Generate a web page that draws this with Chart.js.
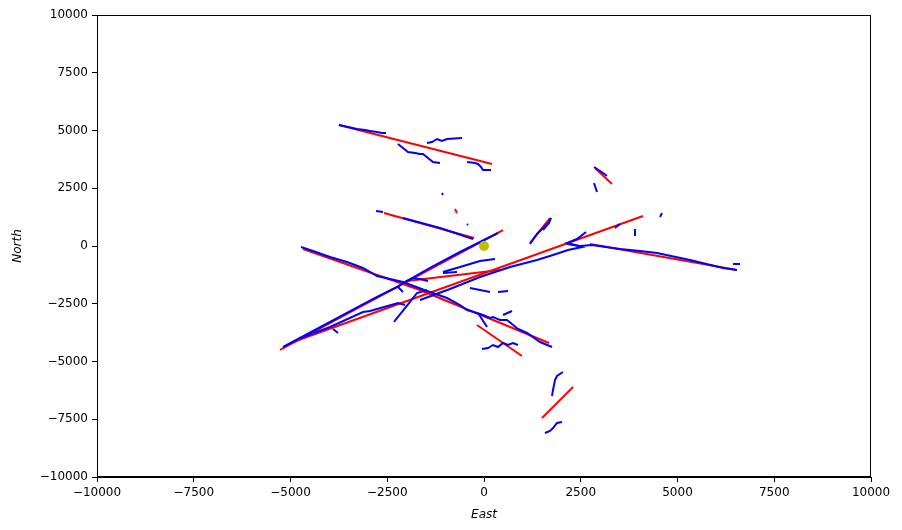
<!DOCTYPE html>
<html>
<head>
<meta charset="utf-8">
<script src="https://cdn.jsdelivr.net/npm/chart.js@4/dist/chart.umd.min.js"></script>
<style>
  body { margin: 0; background: #fff; }
  canvas { display: block; }
</style>
</head>
<body>
<canvas id="c" width="902" height="530"></canvas>
<script>
// tick values, metres
const eastTicks = [-10000, -7500, -5000, -2500, 0, 2500, 5000, 7500, 10000];
const northTicks = [-10000, -7500, -5000, -2500, 0, 2500, 5000, 7500, 10000];

// fitted straight tracks (red), [east, north]
const redA = [[-5270, -4500], [490, 690]];
const redB = [[-4935, -4156], [4108, 1300]];
const redC = [[-1990, -1515], [413, -1039]];
const redD = [[-3750, 5240], [207, 3550]];
const redE = [[-4677, -130], [-1654, -1905], [1680, -4199]];
const redF = [[-181, -3420], [982, -4762]];
const redG = [[1499, -7446], [2300, -6104]];
const redH = [[2868, 3377], [3307, 2684]];
const redI = [[1189, 130], [1705, 1212]];
const redJ = [[2739, 87], [6538, -1039]];
const redK = [[-749, 1602], [-698, 1429]];
const redL = [[-2584, 1429], [-258, 346]];

// observed tracks (blue), [east, north]
const blue1 = [[-3747, 5238], [-3282, 5065], [-3075, 5022], [-2946, 4978], [-2765, 4935], [-2636, 4892], [-2532, 4892]];
const blue2 = [[-1473, 4459], [-1344, 4502], [-1214, 4632], [-1085, 4545], [-956, 4632], [-568, 4675]];
const blue3 = [[-2222, 4416], [-2093, 4242], [-1964, 4069], [-1783, 4026], [-1654, 3983], [-1576, 3983], [-1447, 3810], [-1318, 3636], [-1137, 3593]];
const blue4 = [[-439, 3636], [-233, 3593], [-155, 3550], [-78, 3420], [-26, 3290], [181, 3290]];
const blue5 = [[-1085, 2294], [-1059, 2208]];
const blue6 = [[-439, 952], [-413, 909]];
const blue7 = [[-2791, 1515], [-2610, 1472]];
const blue8 = [[-2093, 1212], [-1137, 779], [-284, 303]];
const blue9 = [[2842, 3420], [2997, 3247], [3075, 3160], [3178, 3030]];
const blue10 = [[2842, 2727], [2920, 2338]];
const blue11 = [[4600, 1429], [4548, 1255]];
const blue12 = [[1189, 87], [1370, 520], [1525, 779], [1654, 996], [1731, 1212], [1680, 996], [1525, 693]];
const blue13 = [[3385, 779], [3514, 952]];
const blue14 = [[3902, 736], [3902, 433]];
const blue15 = [[6434, -780], [6615, -780]];
const blue16 = [[-1654, -2338], [-879, -1861], [-103, -1342], [672, -909], [1370, -606], [1783, -390], [2171, -173], [2532, -43], [2351, 43], [2145, 130], [2403, 303], [2636, 606]];
const blue17 = [[2145, 87], [2481, 0], [2791, 43], [3514, -130], [4031, -216], [4470, -303], [5323, -606], [6176, -952], [6538, -1039]];
const blue18 = [[-5194, -4372], [-4755, -3983], [-3979, -3290], [-3204, -2597], [-2765, -2208], [-2248, -1775], [-2041, -1558], [-1395, -952], [-620, -260], [-103, 173], [362, 563]];
const blue19 = [[-4806, -4026], [-3979, -3506], [-3127, -2857], [-2946, -2814], [-2222, -2468], [-2041, -2554]];
const blue20 = [[-3902, -3593], [-3773, -3766]];
const blue21 = [[-4729, -43], [-4419, -216], [-3979, -476], [-3540, -693], [-3127, -952], [-2765, -1299], [-2093, -1558], [-1473, -1948], [-956, -2251], [-620, -2554], [-439, -2771], [-181, -2900], [-26, -2987], [155, -3117], [233, -3074], [413, -3203], [594, -3203], [879, -3593], [1111, -3766], [1447, -4156], [1757, -4372]];
const blue22 = [[-155, -2900], [78, -3506]];
const blue23 = [[491, -2987], [724, -2814]];
const blue24 = [[-52, -4459], [103, -4416], [233, -4286], [362, -4372], [491, -4199], [620, -4286], [749, -4199], [879, -4286]];
const blue25 = [[-362, -1818], [-103, -1905], [155, -1991]];
const blue26 = [[362, -1991], [620, -1948]];
const blue27 = [[-1059, -1126], [-620, -909], [-103, -649], [284, -563]];
const blue28 = [[-1059, -1169], [-698, -1126]];
const blue29 = [[-2041, -1558], [-1835, -1385], [-1654, -1429], [-1447, -1515]];
const blue30 = [[-2222, -1775], [-2093, -1991]];
const blue31 = [[-2326, -3290], [-2119, -2857], [-1912, -2424], [-1731, -2035], [-1473, -1905]];
const blue32 = [[1757, -6494], [1783, -6234], [1835, -5801], [1886, -5628], [2041, -5455]];
const blue33 = [[1576, -8095], [1705, -8009], [1783, -7879], [1886, -7662], [2016, -7619]];

// origin marker
const origin = [[0, 0]];

const redTracks = [redA, redB, redC, redD, redE, redF, redG, redH, redI, redJ, redK, redL];
const blueTracks = [blue1, blue2, blue3, blue4, blue5, blue6, blue7, blue8, blue9, blue10, blue11,
  blue12, blue13, blue14, blue15, blue16, blue17, blue18, blue19, blue20, blue21, blue22, blue23,
  blue24, blue25, blue26, blue27, blue28, blue29, blue30, blue31, blue32, blue33];

const toXY = pts => pts.map(p => ({ x: p[0], y: p[1] }));

const datasets = [];
redTracks.forEach(t => datasets.push({
  data: toXY(t), showLine: true, borderColor: '#ff0000', borderWidth: 2,
  pointRadius: 0, order: 3
}));
blueTracks.forEach(t => datasets.push({
  data: toXY(t), showLine: true, borderColor: '#0000ff', borderWidth: 2,
  pointRadius: 0, order: 2
}));
datasets.push({
  data: toXY(origin), showLine: false, pointRadius: 5, pointBackgroundColor: '#bfbf00',
  pointBorderWidth: 0, order: 1
});

const minus = v => String(v).replace('-', '\u2212');

const frame = {
  id: 'frame',
  afterDraw(chart) {
    const a = chart.chartArea, ctx = chart.ctx;
    ctx.save();
    ctx.strokeStyle = '#000';
    ctx.lineWidth = 1;
    ctx.strokeRect(a.left + 0.5, a.top + 0.5, a.right - a.left - 1, a.bottom - a.top - 1);
    ctx.restore();
  }
};

Chart.defaults.font.family = 'DejaVu Sans';
Chart.defaults.font.size = 12;
Chart.defaults.color = '#000';

new Chart(document.getElementById('c'), {
  type: 'scatter',
  data: { datasets },
  options: {
    responsive: false,
    animation: false,
    layout: { padding: { top: 15, right: 31, left: 0, bottom: 0 } },
    plugins: { legend: { display: false }, tooltip: { enabled: false } },
    scales: {
      x: {
        type: 'linear', min: -10000, max: 10000,
        afterBuildTicks: s => { s.ticks = eastTicks.map(v => ({ value: v })); },
        afterFit: s => { s.height = 53; },
        ticks: { callback: v => minus(v), maxRotation: 0, padding: 4 },
        grid: { display: true, drawOnChartArea: false, drawTicks: true, tickLength: 5, color: '#000' },
        border: { display: true, color: '#000' },
        title: { display: true, text: 'East', font: { style: 'italic', size: 12 }, padding: { top: 4, bottom: 8 } }
      },
      y: {
        type: 'linear', min: -10000, max: 10000,
        afterBuildTicks: s => { s.ticks = northTicks.map(v => ({ value: v })); },
        afterFit: s => { s.width = 97; },
        ticks: { callback: v => minus(v), padding: 4 },
        grid: { display: true, drawOnChartArea: false, drawTicks: true, tickLength: 5, color: '#000' },
        border: { display: true, color: '#000' },
        title: { display: true, text: 'North', font: { style: 'italic', size: 12 }, padding: { top: 11, bottom: 4 } }
      }
    }
  },
  plugins: [frame]
});
</script>
</body>
</html>
